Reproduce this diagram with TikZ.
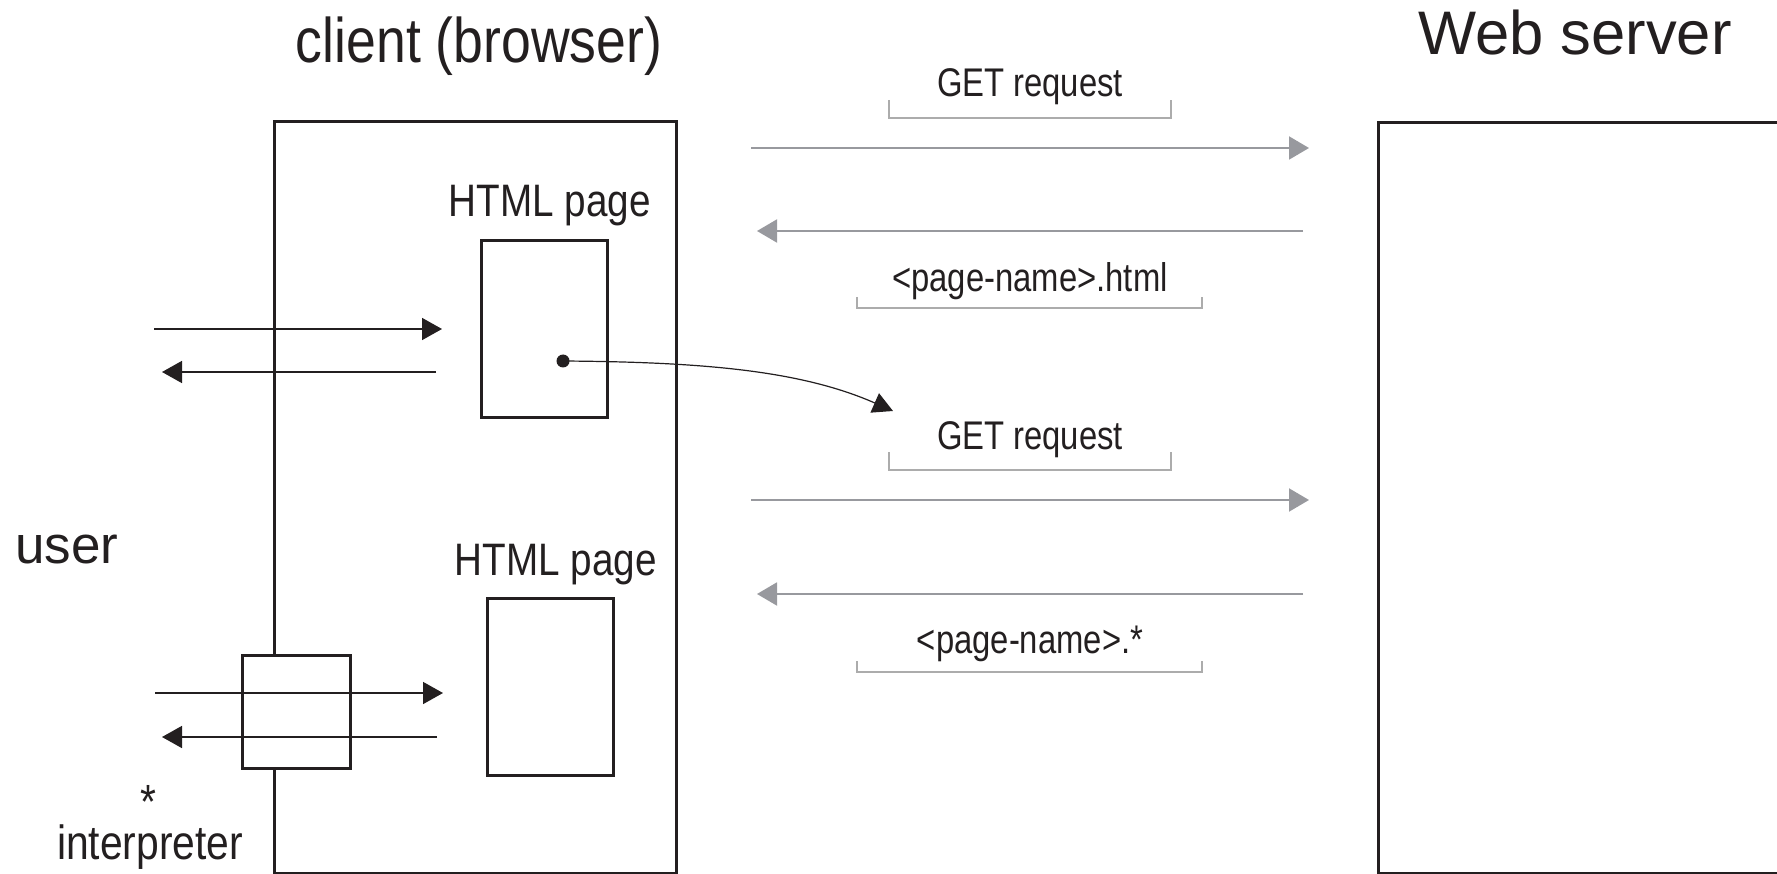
\documentclass[tikz,border=0pt]{standalone}
\usepackage{fontspec}
\setmainfont{Liberation Sans}
\newfontfamily\condfont[FakeStretch=0.85]{Liberation Sans}
\newfontfamily\labelfont[FakeStretch=0.82]{Liberation Sans}
\usetikzlibrary{arrows.meta}
\definecolor{ink}{RGB}{35,31,32}
\definecolor{linkgray}{RGB}{152,153,158}
\definecolor{bracegray}{RGB}{172,172,172}
\begin{document}
\begin{tikzpicture}[x=1pt,y=-1pt,
  box/.style={draw=ink,line width=3pt,inner sep=0pt,outer sep=0pt,fill=white},
  userarrow/.style={draw=ink,line width=1.6pt,-{Triangle[length=20pt,width=22pt]}},
  netarrow/.style={draw=linkgray,line width=2pt,-{Triangle[length=20pt,width=23pt]}},
  linkarrow/.style={draw=ink,line width=1.2pt,-{Triangle[length=20pt,width=21pt]}},
  brace/.style={draw=bracegray,line width=1.5pt},
  txt/.style={inner sep=0pt,anchor=base,text=ink},
  bigtitle/.style={txt,font=\fontsize{63}{70}\selectfont\condfont},
  servertitle/.style={txt,font=\fontsize{61.5}{66}\selectfont},
  pagetitle/.style={txt,font=\fontsize{45.5}{50}\selectfont\condfont},
  msg/.style={txt,font=\fontsize{40}{44}\selectfont\labelfont},
]
\useasboundingbox (0,0) rectangle (1777,874);
\clip (0,0) rectangle (1777,874);

% client and server frames
\node[box,fill=none,minimum width=402pt,minimum height=751pt] (client) at (475,497.5) {};
\node[box,fill=none,minimum width=422pt,minimum height=750pt] (server) at (1589,498) {};

% pages held by the browser
\node[box,minimum width=126pt,minimum height=176pt] (page1) at (544,329) {};
\node[box,minimum width=126pt,minimum height=177pt] (page2) at (550,686.5) {};

% interpreter plug-in sitting on the browser border
\node[box,minimum width=108pt,minimum height=113pt] (interp) at (296,711.5) {};

% titles
\node[bigtitle] (clienttitle) at (479,63) {client (browser)};
\node[servertitle] (servertitle) at (1575,55) {Web server};
\node[pagetitle] (page1title) at (550,217) {HTML page};
\node[pagetitle] (page2title) at (556,575) {HTML page};
\node[txt,anchor=base west,font=\fontsize{53}{58}\selectfont] (user) at (15,563) {user};
\node[txt,font=\fontsize{48}{52}\selectfont\condfont] (star) at (148,818) {*};
\node[txt,font=\fontsize{48}{52}\selectfont\condfont] (interptitle) at (150,859) {interpreter};

% message labels with their brackets
\node[msg] (get1) at (1030,97) {GET request};
\node[msg] (resp1) at (1030,292) {<page-name>.html};
\node[msg] (get2) at (1030,449) {GET request};
\node[msg] (resp2) at (1030,653) {<page-name>.*};
\draw[brace] (889,100) -- (889,118) -- (1171,118) -- (1171,100);
\draw[brace] (857,297) -- (857,308) -- (1202,308) -- (1202,297);
\draw[brace] (889,452) -- (889,470) -- (1171,470) -- (1171,452);
\draw[brace] (857,661) -- (857,672) -- (1202,672) -- (1202,661);

% network traffic between browser and server
\coordinate (req1s) at (751,148);  \coordinate (req1e) at (1309,148);
\coordinate (res1s) at (1303,231); \coordinate (res1e) at (757,231);
\coordinate (req2s) at (751,500);  \coordinate (req2e) at (1309,500);
\coordinate (res2s) at (1303,594); \coordinate (res2e) at (757,594);
\draw[netarrow] (req1s) -- (req1e);
\draw[netarrow] (res1s) -- (res1e);
\draw[netarrow] (req2s) -- (req2e);
\draw[netarrow] (res2s) -- (res2e);

% user interaction with the pages
\coordinate (in1s) at (154,329);  \coordinate (in1e) at (442,329);
\coordinate (out1s) at (436,372); \coordinate (out1e) at (162,372);
\coordinate (in2s) at (155,693);  \coordinate (in2e) at (443,693);
\coordinate (out2s) at (437,737); \coordinate (out2e) at (162,737);
\draw[userarrow] (in1s) -- (in1e);
\draw[userarrow] (out1s) -- (out1e);
\draw[userarrow] (in2s) -- (in2e);
\draw[userarrow] (out2s) -- (out2e);

% hyperlink in the first page triggering the next request
\coordinate (link) at (563,361);
\coordinate (linkend) at (893,411);
\fill[ink] (link) circle (6.5);
\draw[linkarrow] (link) .. controls (700,362) and (800,370) .. (linkend);
\end{tikzpicture}
\end{document}
